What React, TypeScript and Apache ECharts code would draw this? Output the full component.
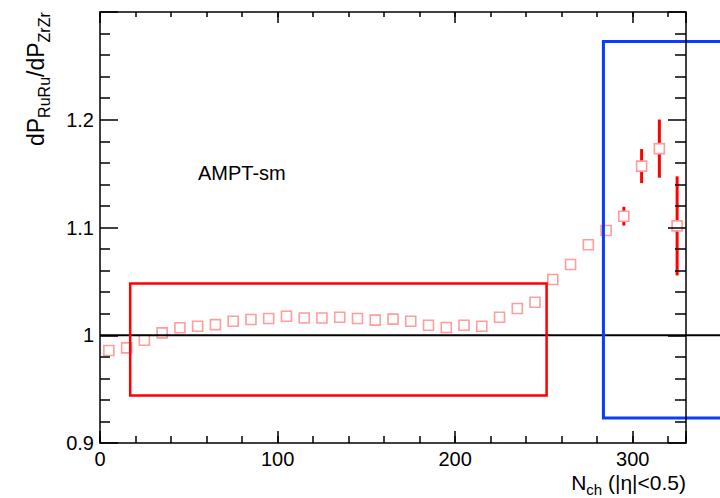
import React, { useEffect, useRef } from "react";
import * as echarts from "echarts";

// N_ch bin centres
const nch = [5, 15, 25, 35, 45, 55, 65, 75, 85, 95, 105, 115, 125, 135, 145, 155, 165, 175, 185, 195, 205, 215, 225, 235, 245, 255, 265, 275, 285, 295, 305, 315, 325];
// dP_RuRu / dP_ZrZr ratio
const ratio = [0.9858, 0.9883, 0.9954, 1.0022, 1.0069, 1.0084, 1.0099, 1.013, 1.0146, 1.0155, 1.0176, 1.016, 1.016, 1.0167, 1.0155, 1.014, 1.015, 1.013, 1.0093, 1.0072, 1.0093, 1.0084, 1.0167, 1.0248, 1.0306, 1.0517, 1.0656, 1.084, 1.0972, 1.1105, 1.157, 1.1732, 1.1015];
// statistical errors
const errs = [0.0005, 0.0005, 0.0005, 0.0005, 0.0005, 0.0005, 0.0005, 0.0005, 0.0005, 0.0005, 0.0005, 0.0005, 0.0005, 0.0005, 0.0005, 0.0005, 0.0005, 0.0005, 0.0005, 0.0005, 0.0006, 0.0006, 0.0007, 0.0008, 0.001, 0.0012, 0.0015, 0.002, 0.003, 0.0087, 0.0158, 0.027, 0.046];

// annotation boxes [x1, y1, x2, y2] in data units
const redBox = [17, 0.944, 251.5, 1.048];
const blueBox = [283.5, 0.9233, 420, 1.2727];
// reference line at ratio = 1
const refLine = [0, 1, 420, 1];

const xTicksMajor = { min: 0, max: 330, interval: 100 };
const xTicksMinor = { min: 0, max: 330, interval: 20 };
const yRange = { min: 0.9, max: 1.3, interval: 0.1 };

const FONT = "Liberation Sans, Arial, Helvetica, sans-serif";

export default function App() {
  const ref = useRef<HTMLDivElement>(null);
  useEffect(() => {
    if (!ref.current) return;
    const chart = echarts.init(ref.current, undefined, { renderer: "svg" });

    const black = "#000";
    const baseX = (position: string, iv: any, tickLen: number, showLine: boolean, showLabel: boolean) => ({
      type: "value",
      position,
      min: iv.min,
      max: iv.max,
      interval: iv.interval,
      z: 6,
      axisLine: { show: showLine, onZero: false, lineStyle: { color: black, width: 1.5 } },
      axisTick: { show: true, inside: true, length: tickLen, lineStyle: { color: black, width: 1.5 } },
      axisLabel: {
        show: showLabel,
        fontSize: 20,
        fontFamily: FONT,
        color: black,
        margin: 6,
        formatter: (v: number) => (v > 325 ? "" : String(v)),
      },
      splitLine: { show: false },
    });

    const baseY = (position: string, tickLen: number, minorLen: number, showLabel: boolean) => ({
      type: "value",
      position,
      min: yRange.min,
      max: yRange.max,
      interval: yRange.interval,
      z: 6,
      axisLine: { show: true, onZero: false, lineStyle: { color: black, width: 1.5 } },
      axisTick: { show: true, inside: true, length: tickLen, lineStyle: { color: black, width: 1.5 } },
      minorTick: { show: true, splitNumber: 5, length: minorLen, lineStyle: { color: black, width: 1.5 } },
      axisLabel: {
        show: showLabel,
        fontSize: 20,
        fontFamily: FONT,
        color: black,
        margin: 6,
        formatter: (v: number) => (v > 1.25 ? "" : String(Math.round(v * 10) / 10)),
      },
      splitLine: { show: false },
      minorSplitLine: { show: false },
    });

    const boxRender = (color: string, width: number) => (params: any, api: any) => {
      const p1 = api.coord([api.value(0), api.value(1)]);
      const p2 = api.coord([api.value(2), api.value(3)]);
      return {
        type: "rect",
        shape: { x: p1[0], y: p2[1], width: p2[0] - p1[0], height: p1[1] - p2[1] },
        style: { fill: "none", stroke: color, lineWidth: width },
      };
    };

    chart.setOption({
      animation: false,
      backgroundColor: "#fff",
      grid: { left: 100, top: 12, width: 586, height: 431, containLabel: false },
      xAxis: [
        baseX("bottom", xTicksMajor, 12, true, true),
        baseX("bottom", xTicksMinor, 7, false, false),
        baseX("top", xTicksMajor, 11, true, false),
        baseX("top", xTicksMinor, 5, false, false),
      ],
      yAxis: [baseY("left", 18, 10, true), baseY("right", 18, 11, false)],
      graphic: [
        {
          type: "text",
          x: 36,
          y: 146,
          rotation: Math.PI / 2,
          style: {
            text: "{m|dP}{s|RuRu}{m|/dP}{s|ZrZr}",
            align: "left",
            verticalAlign: "middle",
            fill: black,
            rich: {
              m: { fontSize: 23, fontFamily: FONT, lineHeight: 33, fill: black },
              s: { fontSize: 16, fontFamily: FONT, verticalAlign: "bottom", fill: black },
            },
          },
        },
        {
          type: "text",
          x: 686,
          y: 482,
          style: {
            text: "{m|N}{s|ch}{m| (|η|<0.5)}",
            align: "right",
            verticalAlign: "middle",
            fill: black,
            rich: {
              m: { fontSize: 21, fontFamily: FONT, lineHeight: 29, fill: black },
              s: { fontSize: 15, fontFamily: FONT, verticalAlign: "bottom", fill: black },
            },
          },
        },
        {
          type: "text",
          x: 198,
          y: 173,
          style: { text: "AMPT-sm", fontSize: 20, fontFamily: FONT, fill: black, align: "left", verticalAlign: "middle" },
        },
      ],
      series: [
        {
          type: "custom",
          name: "errors",
          xAxisIndex: 0,
          yAxisIndex: 0,
          z: 2,
          clip: false,
          data: nch.map((x, i) => [x, ratio[i], errs[i]]),
          renderItem: (params: any, api: any) => {
            const x = api.value(0);
            const y = api.value(1);
            const e = api.value(2);
            const top = api.coord([x, y + e]);
            const bot = api.coord([x, y - e]);
            return {
              type: "line",
              shape: { x1: top[0], y1: top[1], x2: bot[0], y2: bot[1] },
              style: { stroke: "#ff0000", lineWidth: 3 },
            };
          },
        },
        {
          type: "scatter",
          name: "AMPT-sm",
          xAxisIndex: 0,
          yAxisIndex: 0,
          z: 3,
          symbol: "rect",
          symbolSize: 10,
          itemStyle: { color: "#fff", borderColor: "#ff9c9c", borderWidth: 1.6, opacity: 1 },
          data: nch.map((x, i) => [x, ratio[i]]),
        },
        {
          type: "custom",
          name: "refLine",
          z: 4,
          clip: false,
          data: [refLine],
          renderItem: (params: any, api: any) => {
            const p1 = api.coord([api.value(0), api.value(1)]);
            const p2 = api.coord([api.value(2), api.value(3)]);
            return {
              type: "line",
              shape: { x1: p1[0], y1: p1[1], x2: p2[0], y2: p2[1] },
              style: { stroke: "#000", lineWidth: 2 },
            };
          },
        },
        {
          type: "custom",
          name: "redBox",
          z: 4,
          clip: false,
          data: [redBox],
          renderItem: boxRender("#ff0000", 2.5),
        },
        {
          type: "custom",
          name: "blueBox",
          z: 4,
          clip: false,
          data: [blueBox],
          renderItem: boxRender("#0a3cff", 3),
        },
      ],
    });

    return () => chart.dispose();
  }, []);

  return (
    <div
      ref={ref}
      style={{ position: "fixed", left: 0, top: 0, width: 720, height: 498, background: "#fff" }}
    />
  );
}
